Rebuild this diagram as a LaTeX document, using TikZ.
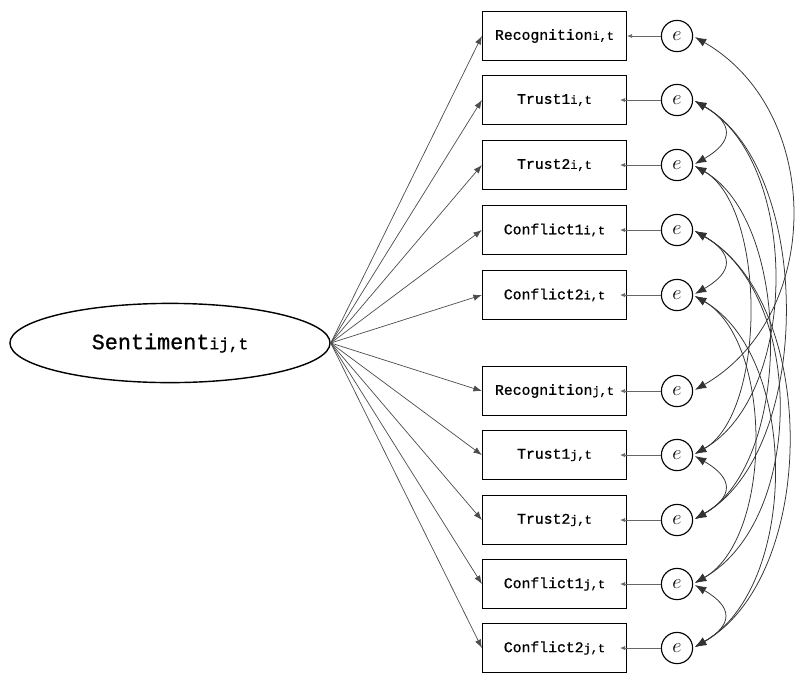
\documentclass[tikz,border=0pt]{standalone}
\usepackage{fontspec}
\setmonofont[BoldFont=Liberation Mono, BoldFeatures={FakeBold=0.9}]{Liberation Mono}
\usepackage{tikz}
\usetikzlibrary{shapes.geometric,arrows.meta}

\newcommand{\sm}[1]{{\fontsize{8.5}{8.5}\selectfont #1}}

\tikzset{
	obs/.style={draw, line width=0.9pt, minimum width=3.6cm, minimum height=1.23cm, inner sep=0pt,
		font=\ttfamily\bfseries\fontsize{10.5}{12}\selectfont},
	err/.style={draw, circle, line width=0.8pt, minimum size=0.78cm, inner sep=0pt,
		font=\fontsize{15}{15}\selectfont},
	lat/.style={draw, ellipse, line width=1pt, minimum width=8cm, minimum height=1.98cm,
		font=\ttfamily\bfseries\fontsize{15.5}{18}\selectfont},
	load/.style={-{Latex[length=6pt,width=4.5pt]}, draw=black!70, line width=0.5pt},
	res/.style={-{Latex[length=3.5pt,width=3pt]}, draw=black!60, line width=0.5pt},
	cov/.style={{Latex[length=8pt,width=6pt]}-{Latex[length=8pt,width=6pt]}, draw=black!80,
		line width=0.55pt, shorten <=1.5pt, shorten >=1.5pt, out=-30, in=30},
}

\begin{document}
\begin{tikzpicture}[x=0.025cm, y=-0.025cm]
	\useasboundingbox (0,0) rectangle (796,673);

	\node[lat] (sent) at (170,343) {Sentiment{\fontsize{11.5}{11.5}\selectfont ij,t}};

	\foreach \n/\y/\t/\s in {ri/36/Recognition/i, ti/100/Trust1/i, tti/165/Trust2/i,
		ci/230/Conflict1/i, cci/295/Conflict2/i, rj/391/Recognition/j, tj/455/Trust1/j,
		ttj/520/Trust2/j, cj/584/Conflict1/j, ccj/648/Conflict2/j} {
		\node[obs] (\n) at (554.5,\y) {\t\sm{\s,t}};
		\node[err] (e\n) at (677,\y) {$e$};
		\draw[load] (sent.east) -- (\n.west);
	}

	% residuals
	\draw[res] (eri) -- (ri.east);
	\foreach \n in {ti,tti,ci,cci,rj,tj,ttj,cj,ccj} {
		\draw[res, shorten >=-5pt] (e\n) -- (\n.east);
	}

	% covariances
	\draw[cov, looseness=1.09] (eri.east) to (erj.east);
	\draw[cov, looseness=1.85] (eti.east) to (etti.east);
	\draw[cov, looseness=0.89] (eti.east) to (etj.east);
	\draw[cov, looseness=0.85] (eti.east) to (ettj.east);
	\draw[cov, looseness=0.75] (etti.east) to (etj.east);
	\draw[cov, looseness=0.83] (etti.east) to (ettj.east);
	\draw[cov, looseness=1.85] (etj.east) to (ettj.east);
	\draw[cov, looseness=1.85] (eci.east) to (ecci.east);
	\draw[cov, looseness=0.94] (eci.east) to (ecj.east);
	\draw[cov, looseness=0.89] (eci.east) to (eccj.east);
	\draw[cov, looseness=0.82] (ecci.east) to (ecj.east);
	\draw[cov, looseness=0.89] (ecci.east) to (eccj.east);
	\draw[cov, looseness=1.85] (ecj.east) to (eccj.east);
\end{tikzpicture}
\end{document}
